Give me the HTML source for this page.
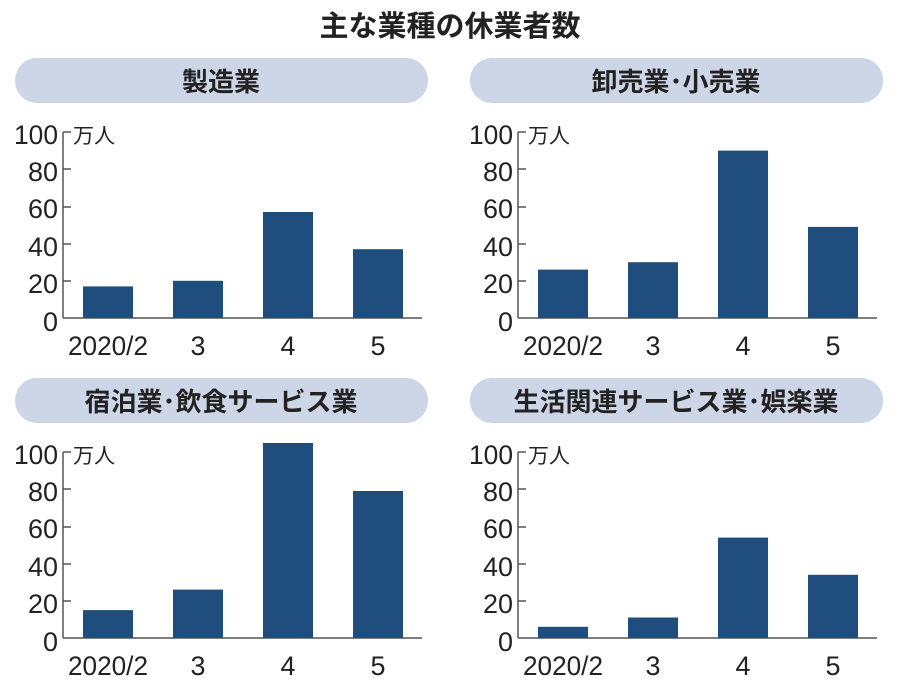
<!DOCTYPE html>
<html><head><meta charset="utf-8"><style>
body{margin:0;background:#fff;}
svg text{font-family:"Liberation Sans","Noto Sans CJK JP",sans-serif;}
</style></head><body>
<svg width="900" height="688" viewBox="0 0 900 688" xmlns="http://www.w3.org/2000/svg">
<text x="450" y="36" text-anchor="middle" font-size="29" font-weight="bold" fill="#222">主な業種の休業者数</text>
<defs>
<g id="axis">
  <line x1="63" y1="132" x2="63" y2="318" stroke="#555" stroke-width="1.5"/>
  <line x1="63" y1="318" x2="422" y2="318" stroke="#555" stroke-width="1.5"/>
  <g stroke="#555" stroke-width="1.5">
    <line x1="63" y1="132" x2="71" y2="132"/><line x1="63" y1="169" x2="71" y2="169"/>
    <line x1="63" y1="207" x2="71" y2="207"/><line x1="63" y1="244" x2="71" y2="244"/>
    <line x1="63" y1="281" x2="71" y2="281"/>
  </g>
  <g font-size="27" fill="#222" text-anchor="end">
    <text x="58" y="144" textLength="44" lengthAdjust="spacingAndGlyphs">100</text>
    <text x="58" y="181" textLength="30" lengthAdjust="spacingAndGlyphs">80</text>
    <text x="58" y="218" textLength="30" lengthAdjust="spacingAndGlyphs">60</text>
    <text x="58" y="256" textLength="30" lengthAdjust="spacingAndGlyphs">40</text>
    <text x="58" y="293" textLength="30" lengthAdjust="spacingAndGlyphs">20</text>
    <text x="58" y="331" textLength="15" lengthAdjust="spacingAndGlyphs">0</text>
  </g>
  <text x="73" y="143" font-size="21" fill="#222">万人</text>
  <g font-size="27" fill="#222" text-anchor="middle">
    <text x="108" y="355" textLength="80" lengthAdjust="spacingAndGlyphs">2020/2</text>
    <text x="198" y="355" textLength="15" lengthAdjust="spacingAndGlyphs">3</text>
    <text x="288" y="355" textLength="15" lengthAdjust="spacingAndGlyphs">4</text>
    <text x="378" y="355" textLength="15" lengthAdjust="spacingAndGlyphs">5</text>
  </g>
</g>
</defs>

<rect x="15" y="58" width="413" height="45" rx="22" fill="#cdd6e6"/>
<text x="221" y="91" text-anchor="middle" font-size="26" font-weight="bold" fill="#222">製造業</text>
<use href="#axis"/>
<g fill="#1f4e7e">
<rect x="83" y="286.4" width="50" height="31.6"/><rect x="173" y="280.8" width="50" height="37.2"/>
<rect x="263" y="212" width="50" height="106"/><rect x="353" y="249.2" width="50" height="68.8"/>
</g>

<rect x="470" y="58" width="413" height="45" rx="22" fill="#cdd6e6"/>
<text x="676" y="91" text-anchor="middle" font-size="26" font-weight="bold" fill="#222">卸売業･小売業</text>
<use href="#axis" x="455"/>
<g fill="#1f4e7e">
<rect x="538" y="269.6" width="50" height="48.4"/><rect x="628" y="262.2" width="50" height="55.8"/>
<rect x="718" y="150.6" width="50" height="167.4"/><rect x="808" y="226.9" width="50" height="91.1"/>
</g>

<g transform="translate(0,320)">
<rect x="15" y="58" width="413" height="45" rx="22" fill="#cdd6e6"/>
<text x="221" y="91" text-anchor="middle" font-size="26" font-weight="bold" fill="#222">宿泊業･飲食サービス業</text>
<use href="#axis"/>
<g fill="#1f4e7e">
<rect x="83" y="290.1" width="50" height="27.9"/><rect x="173" y="269.6" width="50" height="48.4"/>
<rect x="263" y="123" width="50" height="195"/><rect x="353" y="171" width="50" height="147"/>
</g>
</g>

<g transform="translate(455,320)">
<rect x="15" y="58" width="413" height="45" rx="22" fill="#cdd6e6"/>
<text x="221" y="91" text-anchor="middle" font-size="26" font-weight="bold" fill="#222">生活関連サービス業･娯楽業</text>
<use href="#axis"/>
<g fill="#1f4e7e">
<rect x="83" y="306.8" width="50" height="11.2"/><rect x="173" y="297.5" width="50" height="20.5"/>
<rect x="263" y="217.6" width="50" height="100.4"/><rect x="353" y="254.8" width="50" height="63.2"/>
</g>
</g>
</svg>
</body></html>
